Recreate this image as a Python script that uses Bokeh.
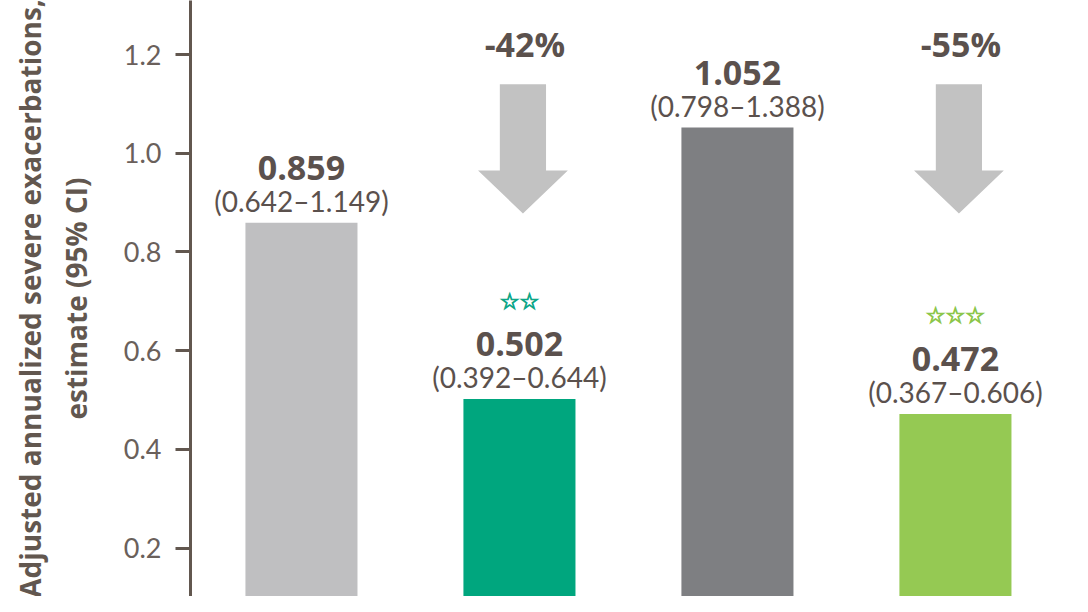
from bokeh.plotting import figure
from bokeh.models import Range1d, FixedTicker, CustomJSTickFormatter
from bokeh.core.properties import value
from bokeh.embed import file_html
from bokeh.resources import INLINE

# ---- data ----
groups = ["Placebo A", "Treatment A", "Placebo B", "Treatment B"]
rates = [0.859, 0.502, 1.052, 0.472]
rate_labels = ["0.859", "0.502", "1.052", "0.472"]
ci_labels = ["(0.642\u20131.149)", "(0.392\u20130.644)", "(0.798\u20131.388)", "(0.367\u20130.606)"]
stars = ["", "\u2606\u2606", "", "\u2606\u2606\u2606"]
reductions = ["", "-42%", "", "-55%"]
bar_colors = ["#bfbfc1", "#00a67e", "#7e7f82", "#95c953"]
star_colors = ["#bfbfc1", "#0ea688", "#7e7f82", "#8cc64a"]
y_ticks = [0.2, 0.4, 0.6, 0.8, 1.0, 1.2]

TXT = "#5b514d"
AX = "#62574f"
ARROW = "#c2c2c2"

xs = list(range(len(groups)))

p = figure(width=1072, height=596, output_backend="svg", toolbar_location=None,
           x_range=Range1d(-0.509, 3.537), y_range=Range1d(0.1021, 1.3094),
           x_axis_location=None, min_border_left=190, min_border_right=0,
           min_border_top=0, min_border_bottom=0)
p.outline_line_color = None
p.grid.visible = False
p.background_fill_color = "white"
p.border_fill_color = "white"

p.vbar(x=xs, top=rates, bottom=0, width=0.514, fill_color=bar_colors, line_color=None)

# arrows above treatment bars
ax_list, ay_list = [], []
for i, r in enumerate(reductions):
    if r:
        cx = xs[i] + 0.016
        sw, hw = 0.106, 0.206
        top, neck, tip = 1.14, 0.965, 0.878
        ax_list.append([cx - sw, cx + sw, cx + sw, cx + hw, cx, cx - hw, cx - sw])
        ay_list.append([top, top, neck, neck, tip, neck, neck])
p.patches(ax_list, ay_list, fill_color=ARROW, line_color=None)

ri = [i for i, r in enumerate(reductions) if r]
p.text(x=[xs[i] + 0.025 for i in ri], y=[1.14] * len(ri), text=[reductions[i] for i in ri],
       y_offset=-40, text_align="center", text_baseline="middle",
       text_font=value("Open Sans"), text_font_style="bold", text_font_size="34px",
       text_color=TXT)

p.text(x=xs, y=rates, text=rate_labels, y_offset=-55, text_align="center",
       text_baseline="middle", text_font=value("Open Sans"), text_font_style="bold",
       text_font_size="34px", text_color=TXT)
p.text(x=xs, y=rates, text=ci_labels, y_offset=-22, text_align="center",
       text_baseline="middle", text_font=value("Lato"),
       text_font_size="28px", text_color=TXT)
p.text(x=xs, y=rates, text=stars, y_offset=-98, text_align="center",
       text_baseline="middle", text_font=value("DejaVu Sans"), text_font_style="bold",
       text_font_size="22px", text_color=star_colors,
       text_outline_color=star_colors)

ya = p.yaxis[0]
ya.ticker = FixedTicker(ticks=y_ticks)
ya.formatter = CustomJSTickFormatter(code="return tick.toFixed(1);")
ya.axis_line_color = AX
ya.axis_line_width = 3
ya.major_tick_line_color = AX
ya.major_tick_line_width = 3
ya.major_tick_out = 15
ya.major_tick_in = 0
ya.minor_tick_line_color = None
ya.major_label_standoff = 14
ya.major_label_text_font = "Lato"
ya.major_label_text_font_size = "27px"
ya.major_label_text_color = "#6a605b"
ya.axis_label = "Adjusted annualized severe exacerbations,\nestimate (95% CI)"
ya.axis_label_text_font = "Open Sans"
ya.axis_label_text_font_style = "bold"
ya.axis_label_text_font_size = "28px"
ya.axis_label_text_color = "#62574f"
ya.axis_label_standoff = 26

open("out.html", "w").write(file_html(p, INLINE))
